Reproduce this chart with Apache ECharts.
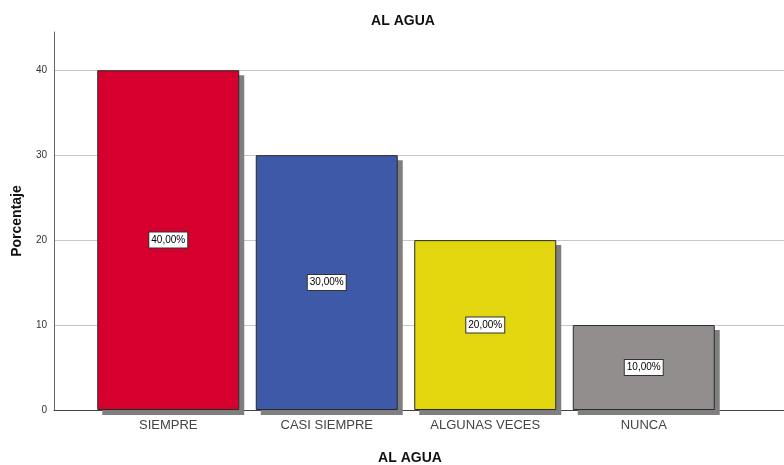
<!DOCTYPE html>
<html>
<head>
<meta charset="utf-8">
<script src="https://cdn.jsdelivr.net/npm/echarts@6/dist/echarts.min.js"></script>
<style>
  html, body { margin: 0; padding: 0; background: #fff; }
  #chart { width: 784px; height: 465px; }
</style>
</head>
<body>
<div id="chart"></div>
<script>
// Frecuencia de respuestas: "AL AGUA"
var categories = ['SIEMPRE', 'CASI SIEMPRE', 'ALGUNAS VECES', 'NUNCA'];
var percentages = [40, 30, 20, 10];
var barColors = ['#d6002e', '#3e59a7', '#e2d60e', '#938e8e'];
var yTicks = [0, 10, 20, 30, 40];

var chart = echarts.init(document.getElementById('chart'), null, { renderer: 'canvas' });

var yMax = 44.5;
var barW = 142;
var shadowOff = 5;
var font = 'Arial, "Liberation Sans", sans-serif';

chart.setOption({
  backgroundColor: '#ffffff',
  animation: false,
  title: [
    {
      text: 'AL AGUA',
      left: 398, top: 9,
      textAlign: 'center',
      textStyle: { fontFamily: font, fontSize: 14, fontWeight: 'bold', color: '#111' }
    },
    {
      text: 'AL AGUA',
      left: 405, top: 446,
      textAlign: 'center',
      textStyle: { fontFamily: font, fontSize: 14, fontWeight: 'bold', color: '#111' }
    }
  ],
  grid: [
    // frame: y axis, gridlines and baseline across the full width
    { left: 54, right: 0, top: 32, bottom: 55, containLabel: false },
    // bars
    { left: 89, width: 634, top: 32, bottom: 55, containLabel: false }
  ],
  xAxis: [
    {
      gridIndex: 0, type: 'value', min: 0, max: 1,
      axisLine: { show: true, onZero: false, lineStyle: { color: '#444', width: 1 } },
      axisTick: { show: false }, axisLabel: { show: false }, splitLine: { show: false }
    },
    {
      gridIndex: 1, type: 'category', data: categories,
      axisLine: { show: false }, axisTick: { show: false },
      axisLabel: { color: '#444', fontFamily: font, fontSize: 13, margin: 9 }
    }
  ],
  yAxis: [
    {
      gridIndex: 0, type: 'value', min: 0, max: yMax, interval: 10,
      name: 'Porcentaje', nameLocation: 'middle', nameGap: 30, nameRotate: 90,
      nameTextStyle: { fontFamily: font, fontSize: 14, fontWeight: 'bold', color: '#111' },
      axisLine: { show: true, lineStyle: { color: '#666', width: 1 } },
      axisTick: { show: false },
      axisLabel: {
        color: '#333', fontFamily: font, fontSize: 10, margin: 7,
        formatter: function (v) { return yTicks.indexOf(v) >= 0 ? String(v) : ''; }
      },
      splitLine: { show: true, showMinLine: false, showMaxLine: false,
                   lineStyle: { color: '#c8c8c8', width: 1 } }
    },
    {
      gridIndex: 1, type: 'value', min: 0, max: yMax, show: false
    }
  ],
  series: [
    {
      // drop shadows behind the bars
      type: 'custom',
      xAxisIndex: 1, yAxisIndex: 1,
      z: 1,
      silent: true,
      data: percentages.map(function (v, i) { return [i, v]; }),
      renderItem: function (params, api) {
        var top = api.coord([api.value(0), api.value(1)]);
        var base = api.coord([api.value(0), 0]);
        return {
          type: 'rect',
          shape: {
            x: top[0] - barW / 2 + shadowOff,
            y: top[1] + shadowOff,
            width: barW,
            height: base[1] - top[1]
          },
          style: { fill: '#7f7f7f' }
        };
      }
    },
    {
      type: 'bar',
      xAxisIndex: 1, yAxisIndex: 1,
      z: 3,
      barWidth: barW,
      data: percentages.map(function (v, i) {
        return {
          value: v,
          itemStyle: { color: barColors[i], borderColor: '#2a2a2a', borderWidth: 1 }
        };
      }),
      label: {
        show: true, position: 'inside',
        formatter: function (p) { return p.value.toFixed(2).replace('.', ',') + '%'; },
        fontFamily: font, fontSize: 10, color: '#000',
        backgroundColor: '#ffffff', borderColor: '#333', borderWidth: 1,
        padding: [3, 2, 2, 2]
      }
    }
  ]
});
</script>
</body>
</html>
